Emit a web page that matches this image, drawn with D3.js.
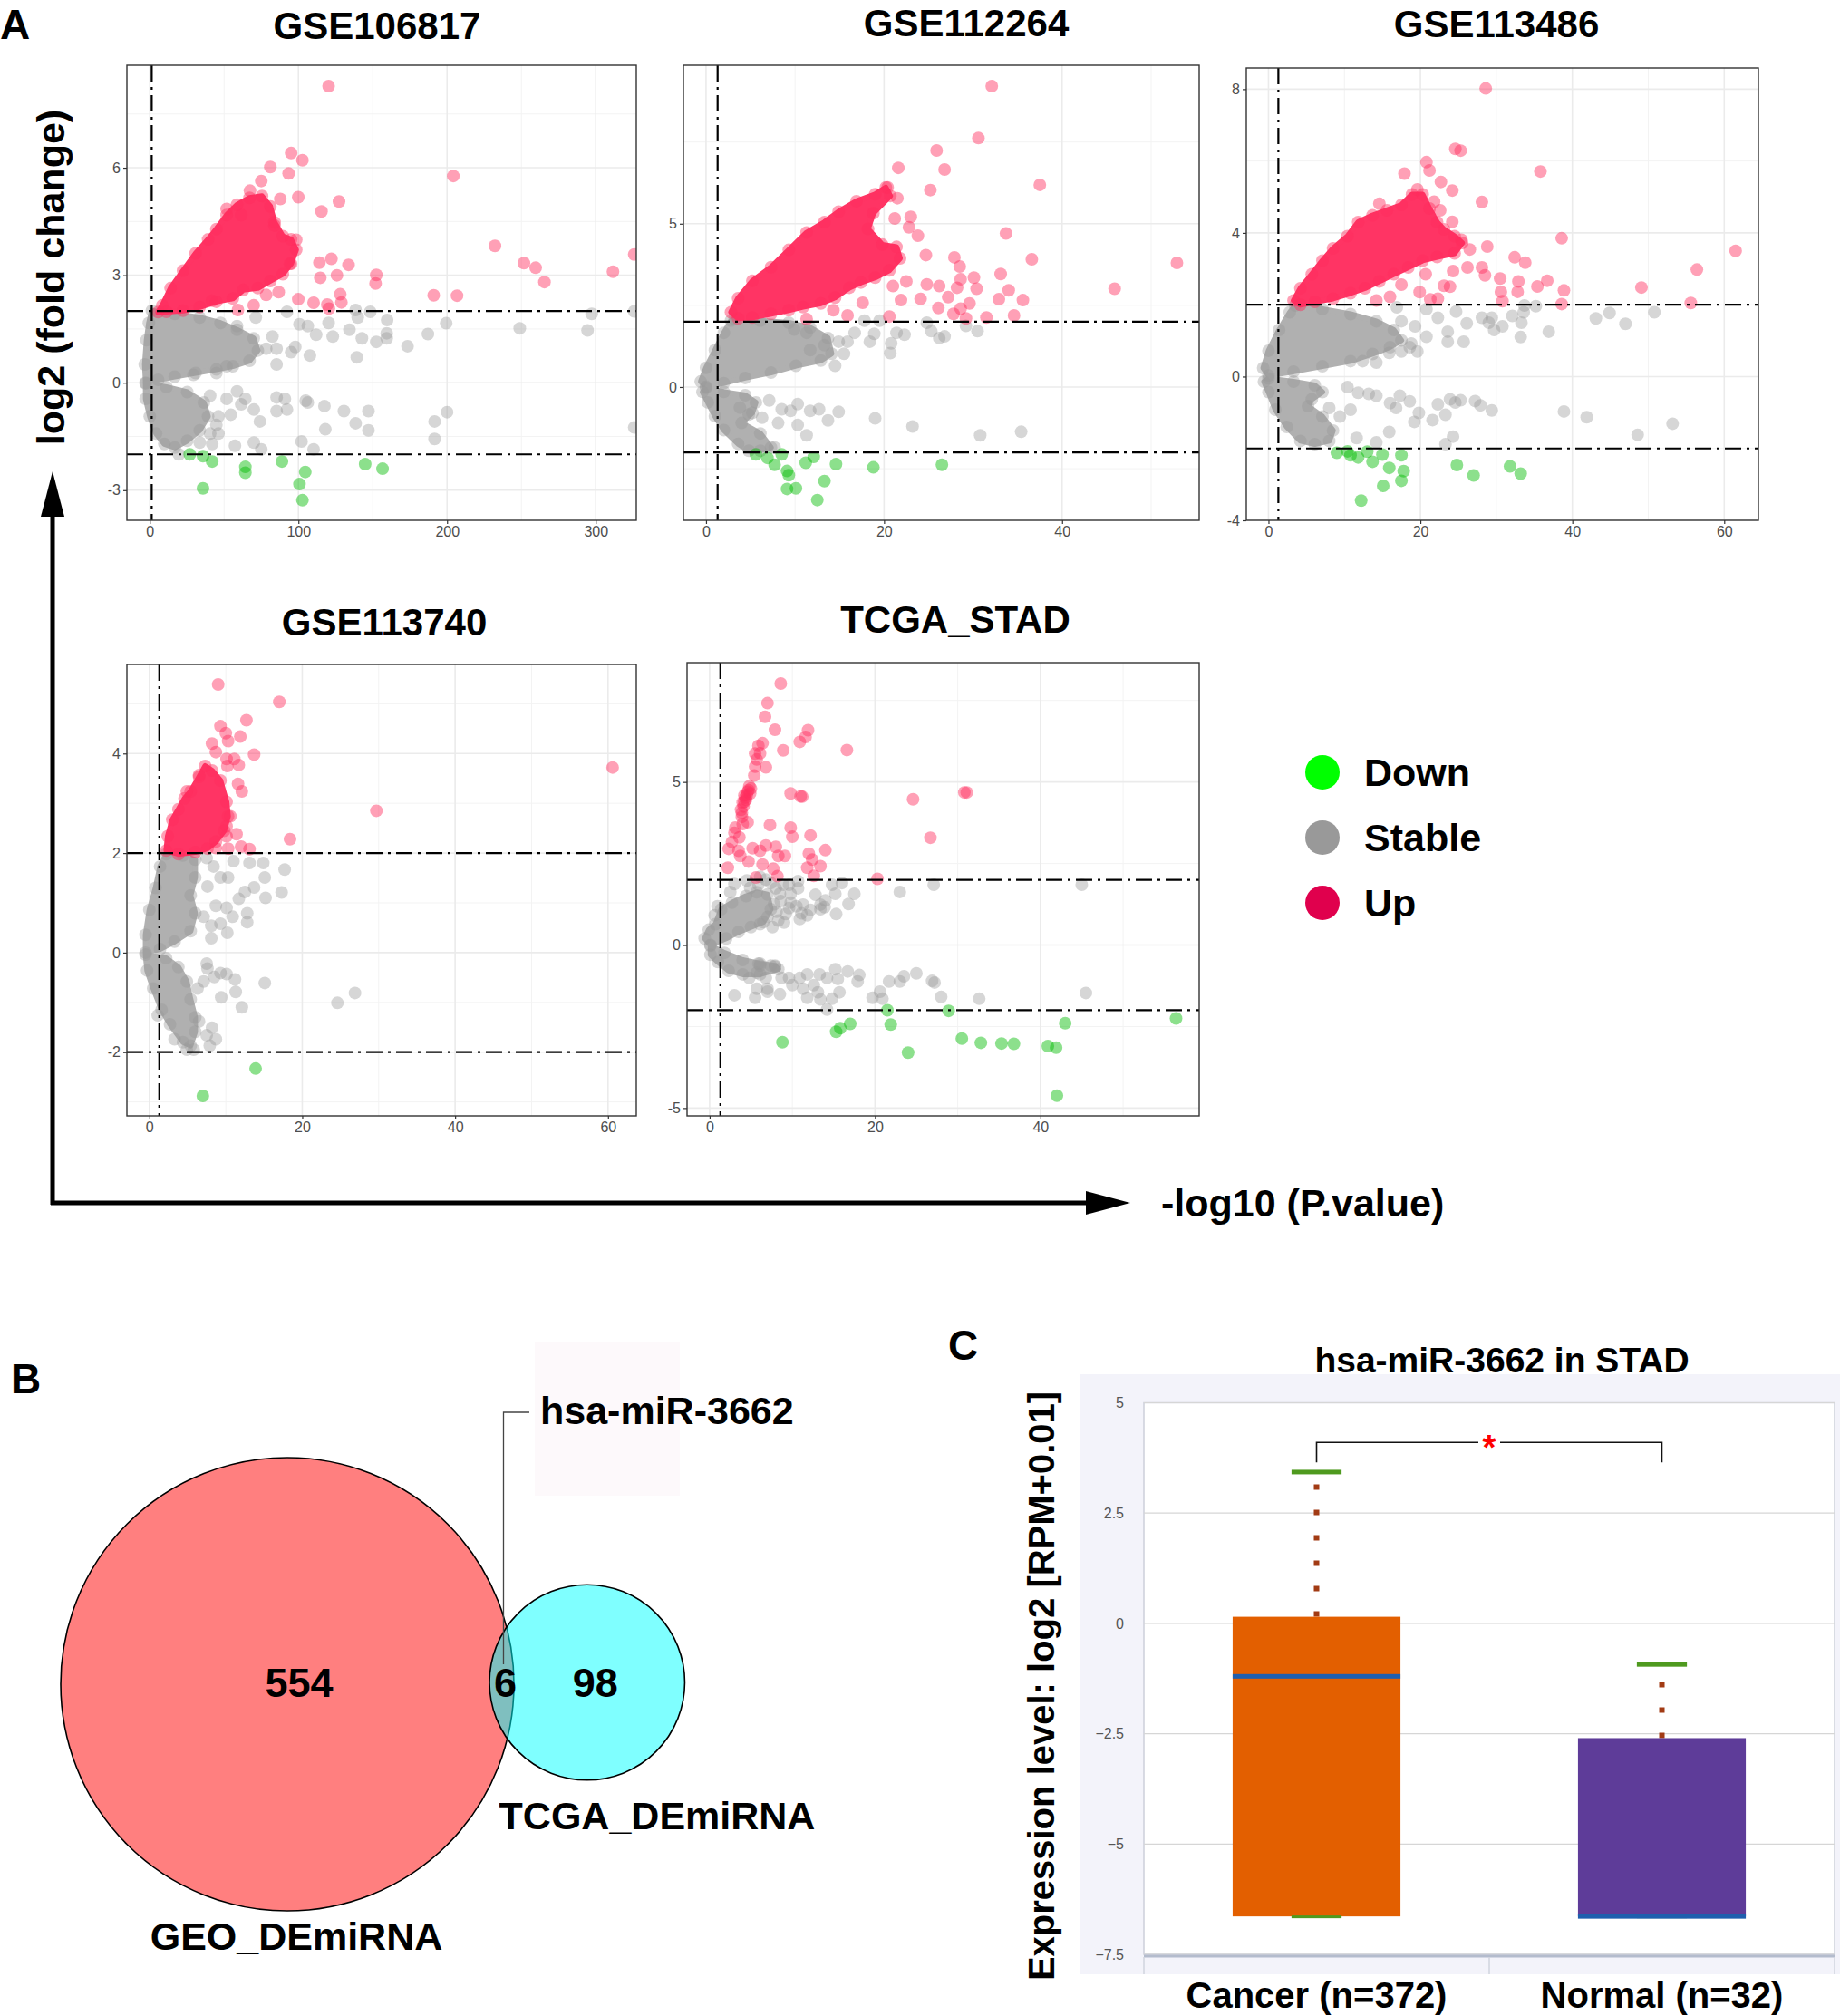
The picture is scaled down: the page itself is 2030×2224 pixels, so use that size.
<!DOCTYPE html>
<html>
<head>
<meta charset="utf-8">
<script src="https://cdn.jsdelivr.net/npm/d3@7"></script>
<style>
body { margin: 0; background: #fff; }
text { font-family: "Liberation Sans", Arial, sans-serif; }
</style>
</head>
<body>
<div id="chart"></div>
<script>
// ---------- data: volcano plots (x = -log10 P, y = log2 FC) ----------
var titles = ["GSE106817", "GSE112264", "GSE113486", "GSE113740", "TCGA_STAD"];

var xDomains = [[-15.4, 327.3], [-2.54, 55.4], [-2.92, 64.5], [-2.94, 63.7], [-2.73, 59.2]];
var yDomains = [[-3.84, 8.86], [-4.08, 9.85], [-4.0, 8.59], [-3.28, 5.79], [-5.24, 8.66]];
var xTicks = [[0, 100, 200, 300], [0, 20, 40], [0, 20, 40, 60], [0, 20, 40, 60], [0, 20, 40]];
var yTicks = [[-3, 0, 3, 6], [0, 5], [-4, 0, 4, 8], [-2, 0, 2, 4], [-5, 0, 5]];
var pCut = 1.3, fcCut = 2;

var g1Up = [[120.3,8.28],[95.1,6.41],[102.7,6.21],[81.1,6.02],[204.2,5.77],[93.4,5.84],[75.0,5.63],[127.3,5.06],[115.5,4.78],[99.9,5.18],[67.4,5.36],[51.7,4.85],[232.2,3.82],[325.9,3.58],[251.7,3.34],[259.6,3.21],[265.5,2.81],[311.6,3.10],[133.7,3.29],[152.4,3.01],[151.9,2.77],[122.2,3.46],[114.1,3.35],[125.9,3.00],[114.7,2.93],[191.0,2.44],[206.7,2.43],[128.1,2.47],[128.9,2.24],[110.2,2.23],[99.9,2.33],[119.4,2.18],[120.5,2.07],[69.9,2.16],[59.3,2.03],[98.5,3.99],[94.3,3.32],[86.7,2.53],[78.3,2.45],[41.9,2.29],[83.9,4.39],[87.8,5.13],[61.5,4.68]];
var g1UpCore = [[5.6,1.97],[8.4,2.16],[14.0,2.64],[22.4,3.13],[30.8,3.61],[39.2,4.00],[44.8,4.29],[51.7,4.68],[58.7,4.97],[67.1,5.16],[75.5,5.21],[81.1,4.92],[83.9,4.48],[89.5,4.09],[95.1,4.00],[98.5,3.71],[95.1,3.32],[89.5,3.03],[81.1,2.84],[72.7,2.64],[62.9,2.59],[55.9,2.35],[44.8,2.26],[33.6,2.11],[22.4,2.01],[11.2,1.98]];
var g1StableCore = [
  [[1.4,2.01],[16.8,1.92],[33.6,1.82],[47.6,1.67],[58.7,1.48],[69.9,1.24],[72.7,0.90],[67.1,0.61],[55.9,0.46],[44.8,0.37],[30.8,0.27],[16.8,0.17],[5.6,0.08],[-2.8,0.0],[-3.4,0.51],[-2.2,1.19],[-0.6,1.67]],
  [[-2.8,-0.02],[11.2,-0.12],[25.2,-0.26],[36.4,-0.55],[39.2,-0.94],[33.6,-1.33],[25.2,-1.62],[16.8,-1.81],[9.8,-1.71],[4.2,-1.42],[0,-0.94],[-2.8,-0.45]]
];
var g1Stable = [[92.3,1.98],[138.5,2.03],[148.3,1.98],[139.9,1.82],[325.9,1.99],[297.3,1.92],[199.4,1.66],[248.9,1.52],[294.5,1.46],[187.1,1.36],[173.4,1.02],[159.7,1.75],[159.4,1.38],[159.4,1.24],[152.4,1.14],[142.7,1.24],[139.3,0.71],[134.3,1.48],[123.1,1.29],[120.3,1.67],[111.9,1.34],[106.3,1.58],[100.7,1.63],[97.9,1.00],[107.7,0.76],[95.1,0.85],[85.3,0.95],[82.5,1.29],[78.3,0.95],[85.3,0.51],[71.3,1.82],[58.7,1.58],[51.7,0.46],[44.8,0.27],[29.4,0.22],
  [58.7,-0.24],[40.6,-0.36],[51.7,-0.45],[64.3,-0.45],[70.0,-0.75],[61.5,-0.60],[54.5,-0.89],[46.2,-0.94],[44.8,-1.18],[46.2,-1.42],[40.6,-1.42],[42.0,-1.71],[33.6,-1.67],[57.3,-1.76],[70.0,-1.67],[75.0,-1.86],[74.1,-1.08],[85.3,-0.41],[85.3,-0.79],[92.3,-0.75],[90.9,-0.45],[104.9,-0.50],[106.3,-0.55],[117.5,-0.65],[118.1,-1.30],[130.6,-0.79],[138.5,-1.13],[147.1,-0.79],[147.1,-1.33],[191.6,-1.08],[191.6,-1.57],[200.0,-0.82],[325.9,-1.25],[102.1,-1.64],[110.2,-1.86],[19.6,-2.0]];
var g1Down = [[26.9,-2.00],[35.8,-2.05],[42.0,-2.20],[64.3,-2.35],[64.3,-2.51],[88.9,-2.20],[104.6,-2.49],[100.7,-2.83],[102.7,-3.28],[35.8,-2.95],[144.9,-2.27],[156.6,-2.40]];

var g2Up = [[32.1,9.21],[30.6,7.62],[25.9,7.24],[26.8,6.66],[21.6,6.71],[37.5,6.19],[25.2,6.03],[20.4,6.11],[21.5,5.78],[21.2,5.16],[23.0,5.21],[22.8,4.89],[23.8,4.63],[33.7,4.70],[36.6,3.91],[52.9,3.80],[45.9,3.01],[24.7,4.04],[27.9,3.97],[28.5,3.69],[33.1,3.46],[30.1,3.35],[30.4,3.01],[34.0,2.96],[32.9,2.69],[35.6,2.66],[28.6,3.30],[28.2,3.04],[27.2,2.75],[29.6,2.56],[28.6,2.40],[27.8,2.24],[29.2,2.10],[31.5,2.13],[34.6,2.19],[26.1,2.42],[26.2,3.09],[24.8,3.14],[24.1,2.70],[21.9,2.66],[21.0,3.09],[22.5,3.23],[20.6,2.16],[17.6,2.58],[15.9,2.19],[14.3,2.35],[11.3,2.08]];
var g2UpCore = [[2.8,2.29],[3.6,2.72],[5.2,3.25],[7.3,3.67],[9.3,4.20],[11.3,4.73],[13.3,5.05],[14.9,5.37],[16.9,5.69],[19.0,5.90],[20.2,6.11],[20.7,5.85],[18.8,5.32],[18.2,4.84],[19.8,4.36],[21.4,4.29],[21.8,3.94],[20.6,3.57],[19.0,3.35],[17.4,3.20],[16.1,3.04],[14.5,2.74],[12.9,2.56],[10.9,2.45],[9.3,2.35],[7.3,2.24],[5.2,2.13],[3.6,2.10]];
var g2StableCore = [
  [[3.2,2.08],[6.1,2.03],[9.3,1.97],[11.7,1.82],[13.7,1.50],[14.1,1.02],[12.9,0.81],[10.1,0.65],[7.3,0.44],[4.4,0.28],[2.0,0.12],[0,0.01],[-0.6,0.17],[0,0.59],[1.0,1.13],[2.0,1.66],[2.8,2.03]],
  [[0,-0.02],[2.0,-0.15],[4.4,-0.25],[5.6,-0.47],[5.2,-0.79],[4.0,-1.10],[6.1,-1.42],[7.3,-1.85],[6.1,-1.95],[4.8,-1.95],[3.6,-1.74],[2.0,-1.32],[1.0,-0.89],[0.2,-0.47],[-0.4,-0.15]]
];
var g2Stable = [[17.8,2.03],[19.5,2.03],[24.8,1.97],[29.2,1.87],[30.5,1.71],[25.3,1.71],[26.2,1.50],[26.8,1.55],[22.3,1.60],[21.4,1.66],[20.8,1.34],[20.7,1.04],[18.9,1.63],[18.4,1.39],[16.7,1.66],[15.9,1.39],[15.5,1.02],[14.5,0.65],[13.3,1.28],[11.7,1.13],[11.3,1.66],[9.9,1.76],[14.9,1.39],
  [7.1,-0.41],[8.5,-0.68],[8.1,-1.10],[6.3,-0.94],[9.5,-0.73],[10.3,-0.52],[10.3,-1.16],[11.3,-1.48],[11.7,-0.73],[12.7,-0.68],[13.7,-1.02],[14.9,-0.76],[19.0,-0.96],[23.2,-1.21],[30.8,-1.48],[35.4,-1.37],[4.8,-0.84],[3.8,-0.63],[7.7,-1.85]];
var g2Down = [[5.6,-2.06],[6.9,-2.17],[7.7,-2.38],[8.5,-2.06],[9.1,-2.57],[9.3,-2.70],[11.2,-2.32],[12.1,-2.14],[13.3,-2.88],[10.1,-3.10],[9.1,-3.12],[12.5,-3.46],[14.6,-2.36],[18.8,-2.46],[26.5,-2.38]];

var g3Up = [[28.6,8.02],[24.6,6.34],[25.3,6.29],[35.8,5.71],[20.8,5.97],[21.2,5.74],[17.9,5.65],[22.7,5.42],[24.2,5.18],[19.6,5.21],[28.1,4.86],[21.8,4.87],[14.6,4.81],[22.6,4.63],[24.2,4.31],[38.6,3.85],[61.5,3.50],[28.8,3.62],[26.5,3.54],[25.4,3.81],[32.4,3.32],[33.8,3.17],[28.1,3.04],[28.5,2.82],[26.2,3.04],[56.4,2.98],[30.5,2.73],[30.6,2.36],[30.8,2.10],[32.9,2.65],[32.8,2.36],[35.4,2.51],[36.7,2.67],[38.9,2.40],[38.6,2.02],[49.1,2.48],[55.6,2.05],[23.9,2.50],[23.1,2.53],[24.3,2.94],[19.9,2.35],[21.3,2.15],[22.3,2.17],[16.0,2.22],[14.2,2.12],[17.5,2.56],[20.7,2.85]];
var g3UpCore = [[3.3,2.12],[4.2,2.46],[5.7,2.85],[7.1,3.23],[8.5,3.57],[10.4,3.91],[11.8,4.30],[13.7,4.49],[15.6,4.63],[17.5,4.78],[18.9,5.07],[20.3,5.07],[21.2,4.68],[22.2,4.30],[23.1,4.10],[24.5,3.91],[25.5,3.72],[24.5,3.43],[22.2,3.33],[20.3,3.23],[18.4,3.04],[16.5,2.85],[14.6,2.65],[12.7,2.46],[10.8,2.32],[8.5,2.17],[6.1,2.08],[4.2,2.00]];
var g3StableCore = [
  [[3.5,1.98],[7.1,1.88],[10.8,1.74],[14.2,1.54],[16.5,1.30],[17.5,1.01],[16.0,0.82],[13.7,0.63],[10.8,0.43],[7.1,0.29],[3.3,0.14],[0,0.03],[-0.7,0.24],[0,0.72],[1.4,1.30],[2.8,1.79]],
  [[0,-0.05],[3.3,-0.14],[6.1,-0.24],[7.1,-0.43],[5.7,-0.63],[5.2,-0.82],[7.1,-1.11],[8.5,-1.50],[8.0,-1.79],[6.1,-1.88],[4.2,-1.79],[2.4,-1.40],[0.9,-0.92],[0,-0.43],[-0.6,-0.14]]
];
var g3Stable = [[16.9,1.93],[20.8,1.88],[22.3,1.64],[24.7,1.81],[26.1,1.48],[28.1,1.64],[29.4,1.64],[29.0,1.50],[29.7,1.30],[30.8,1.40],[32.1,1.69],[33.3,1.50],[33.6,1.79],[33.7,1.98],[35.2,1.96],[33.2,1.10],[36.9,1.25],[43.1,1.62],[44.9,1.77],[47.0,1.47],[50.8,1.79],[25.7,0.97],[23.6,0.97],[23.6,1.25],[20.8,1.11],[19.3,1.40],[18.6,0.82],[19.6,0.70],[17.5,0.70],[15.9,0.66],[14.2,0.39],[12.4,0.43],[18.8,0.92],[17.5,1.54],
  [10.4,-0.29],[11.8,-0.45],[13.2,-0.48],[14.2,-0.53],[16.0,-0.74],[16.8,-0.87],[17.3,-0.53],[18.6,-0.69],[19.8,-1.01],[19.2,-1.26],[21.6,-1.21],[22.3,-0.77],[23.3,-1.06],[23.9,-0.63],[24.6,-0.72],[25.3,-0.66],[27.2,-0.68],[27.9,-0.80],[29.4,-0.94],[15.9,-1.54],[24.3,-1.67],[23.3,-1.88],[14.2,-1.83],[11.6,-1.71],[38.9,-0.97],[41.9,-1.13],[48.6,-1.62],[53.2,-1.31],[9.4,-1.11],[10.8,-0.92],[8.0,-0.87]];
var g3Down = [[9.0,-2.12],[10.4,-2.08],[10.8,-2.19],[11.8,-2.25],[13.0,-2.09],[13.7,-2.37],[15.0,-2.17],[17.5,-2.19],[15.9,-2.54],[17.8,-2.63],[17.5,-2.90],[15.1,-3.04],[12.2,-3.45],[24.8,-2.46],[27.0,-2.75],[31.8,-2.50],[33.2,-2.70]];

var g4Up = [[9.0,5.39],[17.0,5.04],[12.7,4.67],[9.3,4.55],[10.0,4.41],[11.9,4.34],[10.3,4.25],[8.2,4.20],[13.7,3.98],[8.7,4.03],[10.1,3.89],[11.1,3.89],[11.7,3.77],[10.2,3.75],[29.7,2.85],[60.6,3.72],[18.4,2.28],[11.6,3.39],[12.1,3.24],[10.6,2.74],[11.4,2.38],[13.1,2.08],[12.0,2.13],[10.3,2.09],[8.7,2.10],[10.1,2.54],[10.1,2.34],[4.9,3.24],[6.5,3.57]];
var g4UpCore = [[2.2,2.05],[2.4,2.34],[3.0,2.67],[3.8,2.88],[4.6,3.10],[5.4,3.24],[6.5,3.53],[7.3,3.75],[8.2,3.66],[9.3,3.46],[10.1,3.03],[10.3,2.74],[9.8,2.45],[8.7,2.23],[7.6,2.09],[6.0,2.02],[3.8,1.98]];
var g4StableCore = [
  [[2.2,1.98],[4.4,1.95],[6.0,1.87],[6.0,1.51],[5.4,1.15],[6.0,0.79],[5.4,0.43],[3.3,0.22],[1.4,0.07],[-0.5,0],[-0.5,0.36],[0,0.86],[0.8,1.30],[1.4,1.73]],
  [[-0.5,-0.04],[2.2,-0.11],[3.8,-0.29],[4.9,-0.58],[5.4,-0.94],[6.0,-1.30],[6.0,-1.59],[5.4,-1.87],[4.4,-1.80],[2.7,-1.44],[1.6,-1.15],[0.5,-0.72],[-0.3,-0.36]]
];
var g4Stable = [[7.5,1.90],[8.4,1.73],[11.0,1.84],[13.1,1.80],[14.9,1.80],[17.7,1.67],[17.3,1.21],[15.1,1.51],[15.2,1.10],[13.7,1.31],[12.5,1.22],[11.7,1.08],[10.3,1.51],[9.3,1.51],[7.6,1.33],[8.7,0.94],[10.1,0.90],[12.8,0.79],[12.8,0.61],[10.9,0.72],[9.3,0.58],[8.1,0.54],[8.1,0.29],[10.2,0.40],[7.1,0.72],
  [7.5,-0.22],[7.6,-0.32],[9.3,-0.41],[10.1,-0.43],[11.2,-0.54],[8.5,-0.49],[15.1,-0.61],[11.3,-0.79],[9.4,-0.90],[12.1,-1.10],[24.6,-1.01],[26.9,-0.81],[8.2,-1.51],[7.5,-1.66],[8.7,-1.74],[6.5,-1.38],[3.3,-1.74],[4.9,-1.95],[5.8,-1.95],[7.9,-1.87],[6.3,-0.72],[7.1,-0.58],[1.1,-1.26]];
var g4Down = [[13.9,-2.33],[7.0,-2.88]];

var g5Up = [[8.6,8.02],[7.0,7.42],[6.7,7.00],[7.9,6.60],[11.9,6.59],[11.6,6.38],[10.9,6.23],[8.9,5.97],[16.6,5.98],[6.4,6.19],[5.9,6.11],[5.5,5.87],[6.1,5.88],[5.7,5.69],[6.8,5.45],[5.5,5.47],[5.4,5.20],[4.8,4.87],[4.6,4.70],[4.2,4.59],[4.0,4.37],[4.4,4.46],[3.8,4.15],[3.9,3.93],[4.6,3.77],[4.0,3.71],[9.8,4.65],[11.2,4.55],[11.0,4.56],[24.6,4.47],[30.8,4.68],[31.1,4.68],[26.7,3.29],[7.3,3.68],[9.8,3.60],[10.0,3.32],[12.2,3.36],[3.1,3.60],[3.0,3.44],[3.6,3.30],[2.7,3.16],[2.3,2.95],[3.5,2.89],[3.7,2.73],[5.2,2.97],[6.1,2.89],[6.8,3.05],[8.0,3.01],[8.3,2.73],[9.1,2.73],[12.0,2.80],[12.4,2.62],[14.0,2.91],[4.7,2.56],[6.4,2.47],[7.7,2.34],[2.2,2.37],[8.2,2.11],[11.8,2.37],[13.4,2.42],[12.6,2.12],[5.6,2.07],[20.3,2.03],[4.5,4.60],[4.7,4.75],[4.3,4.52],[4.1,4.25],[5.0,4.80],[4.9,4.65],[4.2,4.40],[3.9,4.05]];
var g5UpCore = [];
var g5StableCore = [
  [[0.7,0.64],[1.4,1.10],[2.7,1.30],[4.4,1.50],[5.7,1.62],[7.0,1.55],[7.4,1.10],[6.5,0.70],[5.0,0.55],[3.5,0.40],[2.0,0.20],[0.1,0],[-0.6,0.20],[-0.1,0.47]],
  [[0.1,-0.02],[1.8,-0.24],[4.0,-0.46],[6.1,-0.57],[7.9,-0.63],[8.3,-0.74],[6.1,-0.90],[4.0,-0.90],[2.3,-0.79],[1.0,-0.52],[0.1,-0.30]]
];
var g5Stable = [[2.5,1.63],[3.0,1.87],[4.5,1.98],[6.1,2.09],[6.8,2.01],[8.0,1.74],[8.5,1.57],[9.8,1.57],[10.7,1.96],[10.7,1.74],[9.8,1.30],[11.3,1.24],[11.1,0.97],[11.8,0.91],[12.8,1.54],[13.4,1.24],[13.4,1.10],[14.0,1.37],[14.8,1.85],[15.2,1.57],[16.0,1.90],[16.8,1.26],[17.5,1.57],[15.3,0.95],[13.9,1.16],[12.2,1.08],[23.0,1.63],[27.1,1.85],[45.0,1.85],[0.95,1.19],[0.6,0.91],[8.1,1.02],[7.0,0.86],[6.1,0.64],[9.0,0.69],[10.9,0.80],[9.6,1.13],
  [7.4,1.90],[8.9,1.85],[9.6,1.85],[10.5,1.19],[8.6,1.35],[7.8,1.25],[9.2,0.95],[8.3,0.75],[7.6,0.55],[5.9,1.85],[4.9,1.75],
  [7.4,-0.63],[7.9,-0.66],[5.7,-0.85],[4.8,-1.01],[6.1,-0.63],[6.8,-1.01],[7.0,-1.34],[8.5,-1.51],[5.7,-1.34],[5.5,-1.62],[3.0,-1.54],[7.0,-1.43],[8.7,-1.01],[9.6,-1.01],[10.0,-1.23],[10.9,-1.01],[11.8,-0.90],[11.3,-1.34],[11.8,-1.62],[12.6,-1.23],[13.1,-1.45],[13.4,-1.67],[13.3,-0.90],[14.2,-1.01],[14.8,-1.65],[14.2,-1.98],[15.2,-0.74],[15.5,-1.04],[15.7,-1.45],[16.7,-0.81],[17.9,-1.12],[18.1,-0.92],[19.7,-1.62],[20.6,-1.43],[20.9,-1.65],[21.7,-1.12],[23.0,-1.12],[23.5,-0.96],[25.0,-0.87],[26.9,-1.10],[27.2,-1.15],[28.0,-1.59],[32.6,-1.65],[45.5,-1.47],[5.9,-0.57]];
var g5Down = [[21.5,-2.00],[28.9,-2.02],[21.9,-2.44],[17.0,-2.42],[15.8,-2.55],[15.3,-2.66],[8.8,-2.98],[24.0,-3.30],[30.5,-2.87],[32.8,-3.00],[35.3,-3.02],[36.8,-3.03],[40.9,-3.10],[41.9,-3.15],[43.0,-2.40],[56.4,-2.25],[42.0,-4.62]];

var legendLabels = ["Down", "Stable", "Up"];

// ---------- data: Venn ----------
var vennSets = ["GEO_DEmiRNA", "TCGA_DEmiRNA"];
var vennTotals = [560, 104];
var vennCounts = [554, 6, 98];   // GEO only, shared, TCGA only
var vennNote = "hsa-miR-3662";

// ---------- data: box plot ----------
var boxTitle = "hsa-miR-3662 in STAD";
var boxCats = ["Cancer (n=372)", "Normal (n=32)"];
var boxUpper = [3.43, -0.93];
var boxQ3 = [0.15, -2.6];
var boxMedian = [-1.2, -6.64];
var boxQ1 = [-6.64, -6.64];
var boxLower = [-6.64, -6.64];
var boxTicks = [5, 2.5, 0, -2.5, -5, -7.5];

// ---------- layout ----------
var W = 2030, H = 2224;
var layout = [
  {left: 140, right: 702, top: 72, bottom: 574, tx: 416, ty: 43},
  {left: 754, right: 1323, top: 72, bottom: 574, tx: 1066, ty: 40},
  {left: 1375, right: 1940, top: 75, bottom: 574, tx: 1651, ty: 41},
  {left: 140, right: 702, top: 733, bottom: 1231, tx: 424, ty: 701},
  {left: 758, right: 1323, top: 731, bottom: 1231, tx: 1054, ty: 698}
];
var sets = [
  {up: g1Up, upCore: g1UpCore, stable: g1Stable, stableCore: g1StableCore, down: g1Down},
  {up: g2Up, upCore: g2UpCore, stable: g2Stable, stableCore: g2StableCore, down: g2Down},
  {up: g3Up, upCore: g3UpCore, stable: g3Stable, stableCore: g3StableCore, down: g3Down},
  {up: g4Up, upCore: g4UpCore, stable: g4Stable, stableCore: g4StableCore, down: g4Down},
  {up: g5Up, upCore: g5UpCore, stable: g5Stable, stableCore: g5StableCore, down: g5Down}
];

var svg = d3.select("#chart").append("svg")
    .attr("width", W)
    .attr("height", H);
svg.append("rect").attr("width", W).attr("height", H).attr("fill", "#fff");
var defs = svg.append("defs");

var R = 7;

function volcano(i) {
  var L = layout[i], d = sets[i];
  var x = d3.scaleLinear().domain(xDomains[i]).range([L.left, L.right]);
  var y = d3.scaleLinear().domain(yDomains[i]).range([L.bottom, L.top]);
  var g = svg.append("g");

  defs.append("clipPath").attr("id", "clip" + i)
    .append("rect")
    .attr("x", L.left).attr("y", L.top)
    .attr("width", L.right - L.left).attr("height", L.bottom - L.top);

  g.append("rect")
    .attr("x", L.left).attr("y", L.top)
    .attr("width", L.right - L.left).attr("height", L.bottom - L.top)
    .attr("fill", "#fff");

  // grid
  var xs = xTicks[i], ys = yTicks[i];
  var sx = xs[1] - xs[0], sy = ys[1] - ys[0];
  var xMinor = d3.range(xs[0] - sx / 2, xDomains[i][1], sx).filter(v => v > xDomains[i][0]);
  var yMinor = d3.range(ys[0] - sy / 2, yDomains[i][1], sy).filter(v => v > yDomains[i][0]);
  var grid = g.append("g").attr("clip-path", "url(#clip" + i + ")");
  grid.selectAll(".xm").data(xMinor).join("line")
    .attr("x1", x).attr("x2", x).attr("y1", L.top).attr("y2", L.bottom)
    .attr("stroke", "#f3f3f3").attr("stroke-width", 1);
  grid.selectAll(".ym").data(yMinor).join("line")
    .attr("y1", y).attr("y2", y).attr("x1", L.left).attr("x2", L.right)
    .attr("stroke", "#f3f3f3").attr("stroke-width", 1);
  grid.selectAll(".xM").data(xs).join("line")
    .attr("x1", x).attr("x2", x).attr("y1", L.top).attr("y2", L.bottom)
    .attr("stroke", "#ebebeb").attr("stroke-width", 1.6);
  grid.selectAll(".yM").data(ys).join("line")
    .attr("y1", y).attr("y2", y).attr("x1", L.left).attr("x2", L.right)
    .attr("stroke", "#ebebeb").attr("stroke-width", 1.6);

  // points: dense cores are drawn as filled outlines plus the outline points
  var pts = g.append("g").attr("clip-path", "url(#clip" + i + ")");
  var hull = d3.line().x(p => x(p[0])).y(p => y(p[1])).curve(d3.curveLinearClosed);

  pts.selectAll(".sc").data(d.stableCore).join("path")
    .attr("d", hull)
    .attr("fill", "#b0b0b0").attr("stroke", "#b0b0b0")
    .attr("stroke-width", 6).attr("stroke-linejoin", "round");
  pts.selectAll(".s").data(d.stable.concat(d3.merge(d.stableCore))).join("circle")
    .attr("cx", p => x(p[0])).attr("cy", p => y(p[1])).attr("r", R)
    .attr("fill", "#999999").attr("fill-opacity", 0.4);

  if (d.upCore.length) {
    pts.append("path").datum(d.upCore)
      .attr("d", hull)
      .attr("fill", "#ff3464").attr("stroke", "#ff3464")
      .attr("stroke-width", 6).attr("stroke-linejoin", "round");
  }
  pts.selectAll(".u").data(d.up.concat(d.upCore)).join("circle")
    .attr("cx", p => x(p[0])).attr("cy", p => y(p[1])).attr("r", R)
    .attr("fill", "#ff2d5e").attr("fill-opacity", 0.45);

  pts.selectAll(".d").data(d.down).join("circle")
    .attr("cx", p => x(p[0])).attr("cy", p => y(p[1])).attr("r", R)
    .attr("fill", "#00bb00").attr("fill-opacity", 0.45);

  // thresholds
  var dash = "18,6,3,6";
  pts.append("line")
    .attr("x1", x(pCut)).attr("x2", x(pCut)).attr("y1", L.top).attr("y2", L.bottom)
    .attr("stroke", "#000").attr("stroke-width", 2.2).attr("stroke-dasharray", dash);
  pts.selectAll(".h").data([fcCut, -fcCut]).join("line")
    .attr("x1", L.left).attr("x2", L.right).attr("y1", y).attr("y2", y)
    .attr("stroke", "#000").attr("stroke-width", 2.2).attr("stroke-dasharray", dash);

  // border
  g.append("rect")
    .attr("x", L.left).attr("y", L.top)
    .attr("width", L.right - L.left).attr("height", L.bottom - L.top)
    .attr("fill", "none").attr("stroke", "#333").attr("stroke-width", 1.4);

  // axes
  var ax = g.append("g")
    .attr("transform", "translate(0," + L.bottom + ")")
    .call(d3.axisBottom(x).tickValues(xs).tickSize(4).tickPadding(3).tickFormat(v => String(v)));
  var ay = g.append("g")
    .attr("transform", "translate(" + L.left + ",0)")
    .call(d3.axisLeft(y).tickValues(ys).tickSize(4).tickPadding(3).tickFormat(v => String(v)));
  [ax, ay].forEach(function(a) {
    a.select(".domain").remove();
    a.selectAll(".tick line").attr("stroke", "#333").attr("stroke-width", 1.2);
    a.selectAll(".tick text").attr("fill", "#4d4d4d")
      .style("font-size", "16px").style("font-family", "'Liberation Sans', Arial, sans-serif");
  });

  // title
  svg.append("text")
    .attr("x", L.tx).attr("y", L.ty)
    .attr("text-anchor", "middle")
    .style("font-size", "42px").style("font-weight", "bold")
    .text(titles[i]);
}

for (var i = 0; i < 5; i++) volcano(i);

// panel letters
svg.append("text").attr("x", 0).attr("y", 43).style("font-size", "46px").style("font-weight", "bold").text("A");
svg.append("text").attr("x", 12).attr("y", 1537).style("font-size", "46px").style("font-weight", "bold").text("B");
svg.append("text").attr("x", 1046).attr("y", 1500).style("font-size", "46px").style("font-weight", "bold").text("C");

// legend
var legendColors = ["#00ff00", "#999999", "#e0004d"];
var leg = svg.append("g");
leg.selectAll("circle").data(legendLabels).join("circle")
  .attr("cx", 1459).attr("cy", (dd, k) => 852 + k * 72).attr("r", 19)
  .attr("fill", (dd, k) => legendColors[k]);
leg.selectAll("text").data(legendLabels).join("text")
  .attr("x", 1505).attr("y", (dd, k) => 867 + k * 72)
  .style("font-size", "43px").style("font-weight", "bold")
  .text(dd => dd);

// shared arrows
svg.append("line").attr("x1", 58).attr("x2", 58).attr("y1", 1329).attr("y2", 566)
  .attr("stroke", "#000").attr("stroke-width", 5);
svg.append("path").attr("d", "M58,520 L45,570 L71,570 Z").attr("fill", "#000");
svg.append("line").attr("x1", 56).attr("x2", 1202).attr("y1", 1327).attr("y2", 1327)
  .attr("stroke", "#000").attr("stroke-width", 5);
svg.append("path").attr("d", "M1247,1327 L1198,1314 L1198,1340 Z").attr("fill", "#000");
svg.append("text")
  .attr("transform", "translate(71,306) rotate(-90)")
  .attr("text-anchor", "middle")
  .style("font-size", "43px").style("font-weight", "bold")
  .text("log2 (fold change)");
svg.append("text")
  .attr("x", 1281).attr("y", 1342)
  .style("font-size", "43px").style("font-weight", "bold")
  .text("-log10 (P.value)");

// ---------- Venn ----------
var rScale = d3.scaleSqrt().domain([0, vennTotals[0]]).range([0, 250]);
var bigR = rScale(vennTotals[0]), smallR = rScale(vennTotals[1]);
var bigC = [317, 1858];
var smallC = [bigC[0] + bigR + smallR - 27, 1856];
var venn = svg.append("g");
venn.append("rect").attr("x", 590).attr("y", 1480).attr("width", 160).attr("height", 170).attr("fill", "#fdf9fb");
venn.append("circle").attr("cx", bigC[0]).attr("cy", bigC[1]).attr("r", bigR)
  .attr("fill", "#ff0000").attr("fill-opacity", 0.5).attr("stroke", "#000").attr("stroke-width", 1.6);
venn.append("circle").attr("cx", smallC[0]).attr("cy", smallC[1]).attr("r", smallR)
  .attr("fill", "#00ffff").attr("fill-opacity", 0.5).attr("stroke", "#000").attr("stroke-width", 1.6);
var interX = (bigC[0] + bigR + smallC[0] - smallR) / 2;
var countX = [bigC[0] + 13, interX + 4, smallC[0] + 9];
venn.selectAll(".cnt").data(vennCounts).join("text")
  .attr("x", (dd, k) => countX[k]).attr("y", 1872)
  .attr("text-anchor", "middle")
  .style("font-size", "45px").style("font-weight", "bold")
  .text(dd => dd);
venn.append("path").attr("d", "M" + (interX + 2) + ",1836 V1558 H584")
  .attr("fill", "none").attr("stroke", "#444").attr("stroke-width", 1.3);
venn.append("text").attr("x", 596).attr("y", 1571)
  .style("font-size", "43px").style("font-weight", "bold").text(vennNote);
venn.append("text").attr("x", 327).attr("y", 2151).attr("text-anchor", "middle")
  .style("font-size", "43px").style("font-weight", "bold").text(vennSets[0]);
venn.append("text").attr("x", 725).attr("y", 2018).attr("text-anchor", "middle")
  .style("font-size", "43px").style("font-weight", "bold").text(vennSets[1]);

// ---------- Box plot ----------
var cL = 1262, cR = 2024, cT = 1547.5, cB = 2156;
var yC = d3.scaleLinear().domain([-7.5, 5]).range([cB, cT]);
var xC = d3.scaleBand().domain(boxCats).range([cL, cR]);
var bw = xC.bandwidth() * 0.486, cw = xC.bandwidth() * 0.145;
var bc = svg.append("g");
bc.append("rect").attr("x", 1192).attr("y", 1516).attr("width", W - 1192).attr("height", 662).attr("fill", "#f3f3fa");
bc.append("rect").attr("x", cL).attr("y", cT).attr("width", cR - cL).attr("height", cB - cT)
  .attr("fill", "#fff").attr("stroke", "#cdd0da").attr("stroke-width", 1.5);
bc.selectAll(".gl").data(boxTicks).join("line")
  .attr("x1", cL).attr("x2", cR).attr("y1", yC).attr("y2", yC)
  .attr("stroke", "#d6d6d6").attr("stroke-width", 1.2);
var axC = bc.append("g").attr("transform", "translate(" + cL + ",0)")
  .call(d3.axisLeft(yC).tickValues(boxTicks).tickSize(0).tickPadding(22)
    .tickFormat(v => (v < 0 ? "\u2212" : "") + Math.abs(v)));
axC.select(".domain").remove();
axC.selectAll(".tick text").attr("fill", "#555").style("font-size", "16px")
  .style("font-family", "'Liberation Sans', Arial, sans-serif");
bc.append("line").attr("x1", cL).attr("x2", cR).attr("y1", cB + 2).attr("y2", cB + 2)
  .attr("stroke", "#b4bccd").attr("stroke-width", 3);
bc.selectAll(".sep").data([cL, cL + xC.bandwidth(), cR]).join("line")
  .attr("x1", dd => dd).attr("x2", dd => dd).attr("y1", cB + 3).attr("y2", cB + 22)
  .attr("stroke", "#d0d4de").attr("stroke-width", 1.5);

var boxFill = ["#e35f00", "#5e3c99"];
boxCats.forEach(function(c, k) {
  var cx = xC(c) + xC.bandwidth() / 2;
  bc.append("line").attr("x1", cx).attr("x2", cx)
    .attr("y1", yC(boxQ3[k])).attr("y2", yC(boxUpper[k]) + 6)
    .attr("stroke", "#a23b14").attr("stroke-width", 6).attr("stroke-dasharray", "6,22");
  bc.append("rect").attr("x", cx - bw / 2).attr("y", yC(boxQ3[k]))
    .attr("width", bw).attr("height", yC(boxQ1[k]) - yC(boxQ3[k]))
    .attr("fill", boxFill[k]);
  bc.append("rect").attr("x", cx - cw / 2).attr("y", yC(boxUpper[k]) - 2.5)
    .attr("width", cw).attr("height", 5).attr("fill", "#4f9a1f");
  bc.append("rect").attr("x", cx - cw / 2).attr("y", yC(boxLower[k]) - 1)
    .attr("width", cw).attr("height", 3).attr("fill", "#4f9a1f");
  bc.append("rect").attr("x", cx - bw / 2).attr("y", yC(boxMedian[k]) - 2.5)
    .attr("width", bw).attr("height", 5).attr("fill", "#1f5fae");
});

// significance bracket
var xa = xC(boxCats[0]) + xC.bandwidth() / 2, xb = xC(boxCats[1]) + xC.bandwidth() / 2;
var yBr = yC(4.1);
bc.append("path").attr("d", "M" + xa + "," + yC(3.65) + " V" + yBr + " H" + xb + " V" + yC(3.65))
  .attr("fill", "none").attr("stroke", "#111").attr("stroke-width", 1.6);
bc.append("rect").attr("x", (xa + xb) / 2 - 12).attr("y", yBr - 4).attr("width", 24).attr("height", 8).attr("fill", "#fff");
bc.append("text").attr("x", (xa + xb) / 2).attr("y", yBr + 19).attr("text-anchor", "middle")
  .attr("fill", "#ff0000").style("font-size", "38px").style("font-weight", "bold").text("*");

bc.selectAll(".cat").data(boxCats).join("text")
  .attr("x", dd => xC(dd) + xC.bandwidth() / 2).attr("y", 2215)
  .attr("text-anchor", "middle")
  .style("font-size", "40px").style("font-weight", "bold")
  .text(dd => dd);
bc.append("text").attr("x", 1657).attr("y", 1514).attr("text-anchor", "middle")
  .style("font-size", "39px").style("font-weight", "bold").text(boxTitle);
bc.append("text")
  .attr("transform", "translate(1163,1860) rotate(-90)")
  .attr("text-anchor", "middle")
  .style("font-size", "40px").style("font-weight", "bold")
  .text("Expression level: log2 [RPM+0.01]");
</script>
</body>
</html>
